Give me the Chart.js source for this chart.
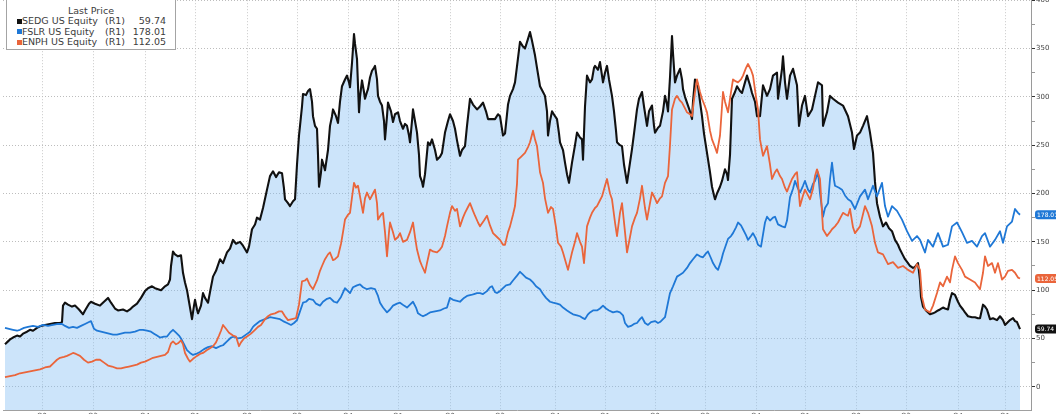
<!DOCTYPE html>
<html>
<head>
<meta charset="utf-8">
<script src="https://cdn.jsdelivr.net/npm/chart.js@4.4.1/dist/chart.umd.min.js"></script>
<style>
  html, body { margin: 0; padding: 0; background: #fff; overflow: hidden; width: 1056px; height: 414px; }
  #wrap { position: absolute; left: 0; top: -5px; width: 1056px; height: 429px; }
  #legend { position: absolute; left: 6px; top: -1px; width: 170px; height: 51px; box-sizing: border-box; background: #fff;
            border: 1px solid #a4a4a4; font-family: "DejaVu Sans", sans-serif; font-size: 9.5px; color: #3c3c3c; }
  #legend .title { position: absolute; left: 0; right: 0; top: 6px; height: 10px; line-height: 10px; text-align: center; }
  #legend .row { position: absolute; left: 0; width: 168px; height: 10px; line-height: 10px; white-space: nowrap; }
  #legend .sw { position: absolute; left: 10px; top: 2.5px; width: 5px; height: 5px; }
  #legend .nm { position: absolute; left: 15px; }
  #legend .r1 { position: absolute; left: 98px; }
  #legend .val { position: absolute; right: 9px; }
</style>
</head>
<body>
<div id="wrap"><canvas id="priceChart"></canvas></div>
<div id="legend"><div class="title">Last Price</div></div>
<script>
// session index (x) and last price
const sedg = [[0,44],[3,47],[5,49],[8,51],[12,53],[15,52],[18,55],[22,57],[25,59],[28,58],[32,61],[36,63],[40,64],[45,65],[50,66],[55,66],[57,67],[58,84],[60,87],[63,85],[67,83],[70,84],[74,80],[78,75],[80,79],[84,86],[86,88],[90,86],[95,84],[99,88],[103,92],[106,87],[110,81],[113,79],[118,80],[122,78],[125,80],[128,83],[132,86],[136,92],[140,99],[143,102],[147,104],[150,102],[153,101],[156,100],[160,104],[163,106],[165,111],[166,125],[168,140],[170,137],[173,135],[176,136],[178,118],[180,108],[182,100],[184,88],[187,70],[189,84],[190,90],[192,80],[193,76],[196,84],[198,97],[200,92],[203,87],[205,98],[208,114],[211,120],[215,132],[218,128],[222,139],[225,143],[228,152],[231,148],[235,150],[238,146],[242,139],[244,145],[247,163],[250,168],[252,175],[255,173],[258,185],[262,204],[265,218],[268,223],[271,217],[274,222],[277,221],[279,205],[280,194],[283,190],[285,187],[288,192],[290,194],[292,230],[294,260],[295,270],[297,290],[298,303],[301,302],[303,306],[305,308],[307,295],[308,280],[310,270],[312,267],[313,240],[314,207],[316,222],[317,235],[319,228],[320,224],[323,245],[325,270],[327,280],[328,287],[331,280],[333,273],[335,295],[337,311],[340,318],[342,322],[344,315],[345,310],[347,335],[349,365],[350,355],[352,339],[354,284],[355,300],[357,317],[359,305],[360,298],[362,305],[363,308],[365,320],[367,327],[369,330],[370,332],[372,318],[373,301],[375,295],[377,291],[379,275],[380,256],[382,280],[383,294],[386,285],[388,274],[390,282],[393,284],[395,275],[398,267],[400,272],[402,270],[404,260],[405,253],[407,275],[408,287],[410,275],[412,263],[414,240],[415,218],[417,212],[418,207],[420,220],[423,253],[425,250],[427,256],[430,245],[432,235],[435,238],[437,242],[440,263],[443,275],[445,282],[448,275],[450,267],[452,255],[455,239],[457,245],[460,249],[462,270],[465,298],[468,292],[472,287],[475,290],[478,294],[481,285],[483,277],[487,277],[490,277],[493,282],[495,280],[498,260],[500,262],[503,292],[505,301],[508,308],[510,315],[513,340],[515,357],[518,352],[520,350],[523,360],[525,367],[527,358],[530,343],[532,330],[535,311],[538,305],[540,301],[542,285],[543,260],[545,275],[547,285],[550,280],[552,277],[554,262],[555,253],[558,245],[560,232],[562,220],[564,211],[566,225],[567,232],[570,250],[572,263],[575,258],[577,256],[578,235],[580,290],[582,322],[585,315],[587,318],[589,330],[590,332],[593,328],[595,336],[597,322],[598,315],[600,325],[602,332],[604,318],[607,301],[609,285],[611,265],[612,253],[615,250],[617,249],[619,230],[622,211],[624,225],[627,246],[629,262],[632,287],[634,298],[637,305],[639,290],[642,270],[644,285],[647,291],[649,270],[650,263],[653,268],[655,270],[658,285],[660,301],[662,292],[663,285],[665,320],[667,363],[668,345],[670,315],[672,322],[675,329],[677,318],[678,308],[680,300],[683,291],[685,285],[687,277],[688,295],[690,318],[692,315],[693,311],[695,295],[697,280],[699,262],[702,242],[705,222],[707,207],[709,198],[710,194],[712,200],[715,207],[717,213],[720,225],[722,220],[723,214],[725,240],[727,298],[730,305],[732,311],[735,306],[737,304],[740,315],[742,322],[745,312],[747,304],[750,295],[752,280],[755,280],[758,312],[762,301],[765,308],[768,322],[772,325],[773,298],[777,329],[778,342],[780,315],[782,298],[785,322],[788,329],[792,312],[794,270],[797,291],[800,301],[803,280],[807,287],[810,301],[813,315],[817,312],[818,270],[822,284],[825,301],[828,298],[833,294],[838,291],[843,280],[847,263],[849,246],[852,260],[855,263],[858,270],[862,280],[865,263],[868,242],[870,212],[872,190],[875,176],[878,166],[881,170],[884,164],[887,161],[890,152],[893,147],[895,142],[898,136],[900,132],[903,128],[905,125],[908,123],[910,124],[913,128],[915,110],[916,93],[918,83],[921,79],[925,75],[928,76],[930,77],[933,79],[935,80],[938,82],[940,81],[943,80],[945,90],[947,97],[950,95],[953,88],[955,84],[958,80],[960,77],[963,73],[967,72],[970,72],[973,71],[975,71],[978,85],[980,83],[982,80],[985,70],[988,71],[992,69],[995,73],[998,69],[1000,64],[1003,67],[1005,69],[1008,71],[1010,68],[1012,67],[1015,59.74]];

const fslr = [[0,61],[4,60],[8,59],[12,58],[15,59],[19,61],[23,62],[28,63],[33,62],[38,64],[43,63],[48,64],[53,65],[57,65],[60,63],[64,61],[68,62],[72,61],[76,63],[80,65],[84,67],[86,68],[89,60],[92,58],[96,57],[100,56],[104,55],[108,54],[112,54],[116,55],[120,56],[125,56],[130,57],[135,59],[138,59],[142,58],[146,57],[149,55],[152,53],[155,51],[159,52],[162,52],[165,56],[168,59],[171,56],[174,53],[176,50],[179,44],[182,38],[185,35],[188,33],[191,34],[195,36],[199,39],[203,41],[207,42],[211,40],[215,42],[218,43],[222,47],[226,51],[229,52],[233,50],[237,51],[241,54],[245,57],[248,62],[250,64],[255,68],[260,70],[265,72],[270,71],[275,70],[278,68],[282,66],[286,64],[289,66],[292,69],[295,78],[298,87],[301,88],[304,91],[308,90],[311,86],[315,84],[318,88],[322,91],[325,92],[329,88],[332,87],[336,93],[340,102],[343,99],[345,97],[348,103],[352,105],[355,106],[358,103],[362,101],[366,102],[370,101],[373,94],[375,87],[378,82],[382,77],[385,80],[388,84],[392,86],[395,87],[399,84],[402,82],[405,85],[408,88],[411,82],[413,76],[416,74],[418,73],[422,75],[425,77],[430,78],[435,79],[439,81],[442,82],[445,92],[448,90],[452,89],[455,88],[459,92],[462,94],[466,95],[469,96],[472,97],[475,97],[478,96],[482,99],[485,103],[487,104],[490,98],[492,97],[495,99],[498,102],[501,105],[505,106],[508,110],[512,115],[515,119],[518,116],[521,113],[525,111],[528,108],[531,104],[535,101],[538,96],[541,92],[545,88],[548,87],[552,86],[555,85],[558,82],[562,79],[565,77],[568,75],[572,74],[575,73],[578,71],[580,70],[583,75],[585,77],[588,79],[592,79],[595,81],[598,84],[601,81],[604,79],[608,77],[612,78],[615,77],[618,74],[620,66],[623,62],[626,63],[629,65],[632,66],[635,70],[637,72],[640,66],[643,64],[646,67],[650,68],[653,66],[655,67],[658,70],[660,72],[662,82],[665,97],[668,104],[672,114],[675,116],[678,118],[682,123],[685,128],[688,132],[692,137],[695,135],[698,134],[701,138],[703,140],[706,133],[708,128],[711,123],[713,121],[716,130],[718,138],[721,147],[723,153],[726,156],[728,159],[731,165],[733,170],[736,167],[738,163],[741,157],[743,152],[746,156],[748,159],[751,153],[753,147],[756,145],[760,170],[762,176],[765,172],[768,175],[770,176],[773,168],[777,166],[780,165],[782,172],[785,196],[788,205],[790,213],[793,205],[795,201],[798,208],[800,213],[803,204],[805,201],[808,210],[810,213],[813,222],[815,200],[818,176],[820,185],[823,190],[825,215],[827,232],[829,214],[830,208],[834,206],[837,204],[840,198],[843,194],[846,192],[850,184],[855,197],[860,204],[863,194],[868,208],[872,197],[877,211],[880,187],[883,176],[887,187],[892,182],[897,173],[902,161],[907,151],[912,156],[915,152],[920,139],[923,152],[928,145],[933,159],[938,145],[943,147],[947,166],[952,170],[957,160],[962,149],[967,151],[972,145],[977,156],[980,159],[985,145],[990,152],[995,161],[998,149],[1002,166],[1007,171],[1010,184],[1013,180],[1015,178.01]];

const enph = [[0,10],[5,11],[10,12],[15,14],[20,15],[25,16],[30,17],[35,18],[40,20],[45,21],[48,24],[52,28],[55,30],[59,31],[62,32],[66,34],[68,35],[71,34],[75,32],[79,28],[83,25],[87,26],[91,28],[95,28],[99,25],[103,22],[107,21],[112,19],[116,19],[120,20],[124,21],[128,22],[132,23],[136,25],[140,26],[144,28],[148,30],[152,31],[156,32],[160,33],[163,36],[166,45],[168,47],[171,44],[173,45],[176,48],[178,44],[180,35],[183,29],[185,26],[188,29],[192,32],[195,34],[198,35],[202,38],[205,40],[208,42],[211,46],[214,53],[216,58],[218,64],[221,60],[224,56],[228,53],[231,52],[234,42],[236,46],[239,50],[242,52],[246,55],[250,59],[253,62],[256,64],[260,70],[263,73],[266,75],[270,76],[274,78],[277,78],[280,73],[283,69],[287,70],[291,71],[294,85],[297,109],[300,110],[302,112],[305,105],[308,101],[312,110],[315,120],[317,125],[320,132],[323,137],[325,139],[328,131],[330,132],[333,135],[336,148],[338,160],[340,173],[343,178],[345,180],[347,196],[349,211],[351,206],[353,208],[355,197],[358,180],[360,195],[362,201],[365,194],[368,200],[370,204],[372,190],[373,173],[376,178],[378,180],[380,160],[382,135],[384,160],[385,170],[388,160],[390,152],[393,155],[395,159],[398,150],[402,152],[405,160],[408,170],[410,155],[412,142],[415,130],[417,125],[420,118],[422,128],[425,142],[428,140],[432,139],[435,142],[437,145],[440,156],[442,166],[445,180],[447,187],[450,182],[452,184],[455,166],[458,175],[460,180],[463,186],[465,190],[468,182],[470,177],[473,170],[475,166],[479,172],[482,177],[485,167],[488,159],[492,155],[495,152],[498,147],[500,147],[503,160],[505,166],[508,178],[510,187],[512,210],[513,235],[516,238],[520,242],[523,248],[525,253],[528,265],[530,256],[532,249],[535,222],[538,211],[540,195],[543,180],[546,186],[548,184],[551,165],[553,149],[556,145],[558,139],[561,128],[563,121],[565,130],[567,139],[570,150],[572,159],[575,150],[577,145],[579,128],[582,166],[585,175],[587,180],[590,185],[592,187],[595,193],[597,197],[600,208],[602,215],[605,200],[607,194],[610,170],[612,156],[615,180],[617,190],[620,160],[622,139],[625,155],[627,166],[630,175],[632,180],[635,195],[637,208],[640,185],[642,173],[645,190],[647,201],[650,195],[652,190],[655,195],[657,197],[660,211],[663,218],[665,250],[667,287],[670,298],[672,301],[675,296],[677,294],[680,288],[682,284],[685,282],[687,280],[690,305],[692,318],[695,305],[697,298],[700,290],[702,284],[705,265],[707,256],[710,248],[712,242],[715,260],[718,305],[720,295],[723,284],[726,305],[728,318],[731,316],[733,315],[736,318],[738,322],[741,330],[743,334],[746,328],[748,322],[751,300],[753,287],[755,256],[758,239],[762,249],[765,230],[767,215],[770,222],[772,225],[775,218],[777,215],[780,206],[782,202],[785,210],[787,215],[790,220],[792,222],[795,187],[798,198],[800,204],[803,198],[805,194],[808,205],[810,218],[812,225],[815,215],[818,163],[822,156],[825,160],[827,163],[830,166],[833,170],[836,176],[838,180],[841,178],[843,177],[845,184],[848,165],[850,159],[855,166],[860,187],[863,180],[867,166],[870,149],[873,139],[878,137],[883,127],[888,129],[893,123],[898,125],[903,121],[908,118],[912,127],[915,121],[917,93],[920,80],[925,77],[928,84],[932,97],[935,108],[938,104],[942,114],[945,108],[947,121],[950,135],[953,128],[957,121],[960,114],[965,111],[970,108],[975,101],[978,118],[980,135],[983,125],[987,128],[990,118],[993,128],[997,111],[1000,114],[1003,120],[1007,121],[1010,118],[1013,113],[1015,112.05]];

const tickers = ["SEDG US Equity", "FSLR US Equity", "ENPH US Equity"];
const axisTag = "(R1)";
const colors = ["#111111", "#1f78d6", "#ea653b"];

const quarterDays = [37, 88, 140, 190, 242, 292, 343, 393, 445, 495, 550, 600, 650, 700, 751, 800, 851, 901, 953, 1000];
const quarterLabels = ["Q2", "Q3", "Q4", "Q1", "Q2", "Q3", "Q4", "Q1", "Q2", "Q3", "Q4", "Q1", "Q2", "Q3", "Q4", "Q1", "Q2", "Q3", "Q4", "Q1"];
const priceTicks = [0, 25, 50, 75, 100, 125, 150, 175, 200, 225, 250, 275, 300, 325, 350, 375, 400];

const series = [sedg, fslr, enph];

// legend box (HTML, on top of the canvas)
const legendBox = document.getElementById("legend");
series.forEach((s, i) => {
  const row = document.createElement("div");
  row.className = "row";
  row.style.top = (16 + i * 10.5) + "px";
  row.innerHTML = '<span class="sw" style="background:' + colors[i] + '"></span>' +
    '<span class="nm">' + tickers[i] + '</span><span class="r1">' + axisTag + '</span>' +
    '<span class="val">' + s[s.length - 1][1].toFixed(2) + '</span>';
  legendBox.appendChild(row);
});

// coloured last-value tags on the right axis
const lastValueTags = {
  id: "lastValueTags",
  afterDraw(chart) {
    const ctx = chart.ctx;
    const yScale = chart.scales.y;
    const left = yScale.left + 4;
    ctx.save();
    ctx.font = '6px "DejaVu Sans"';
    ctx.textBaseline = "middle";
    chart.data.datasets.forEach(ds => {
      const last = ds.data[ds.data.length - 1].y;
      const py = yScale.getPixelForValue(last);
      ctx.fillStyle = ds.borderColor;
      ctx.beginPath();
      ctx.roundRect(left, py - 4.5, 30, 9, 3);
      ctx.fill();
      ctx.fillStyle = "#fff";
      ctx.fillText(last.toFixed(2), left + 2, py + 0.5);
    });
    ctx.restore();
  }
};

new Chart(document.getElementById("priceChart"), {
  type: "line",
  data: {
    datasets: series.map((s, i) => ({
      label: tickers[i],
      data: s.map(p => ({ x: p[0], y: p[1] })),
      borderColor: colors[i],
      borderWidth: i === 0 ? 2.1 : 1.8,
      fill: i === 0 ? "start" : false,
      backgroundColor: i === 0 ? "rgba(127,187,242,0.4)" : "transparent",
      order: 3 - i
    }))
  },
  options: {
    responsive: true,
    maintainAspectRatio: false,
    animation: false,
    elements: { point: { radius: 0 }, line: { tension: 0, borderJoinStyle: "round" } },
    layout: { padding: { left: 3, top: 0, right: 0, bottom: 0 } },
    plugins: { legend: { display: false }, tooltip: { enabled: false } },
    scales: {
      x: {
        type: "linear",
        min: -2,
        max: 1026,
        afterBuildTicks: scale => { scale.ticks = quarterDays.map(v => ({ value: v })); },
        afterFit: scale => { scale.height = 14; },
        grid: { color: "#c9c9c9", lineWidth: 1, drawTicks: false },
        border: { color: "#a0a0a0", dash: [1, 2] },
        ticks: {
          autoSkip: false, maxRotation: 0, padding: 2,
          color: "#555", font: { family: "DejaVu Sans", size: 7 },
          callback: (v, i) => quarterLabels[i]
        }
      },
      y: {
        position: "right",
        min: -24,
        max: 400,
        afterBuildTicks: scale => { scale.ticks = priceTicks.map(v => ({ value: v })); },
        afterFit: scale => { scale.width = 25; },
        grid: {
          color: c => (c.tick && c.tick.value % 50 === 0) ? "#bdbdbd" : "transparent",
          tickColor: c => (c.tick && c.tick.value % 50 === 0) ? "#333" : "#999",
          tickLength: 4,
          lineWidth: 1
        },
        border: { color: "#9a9a9a", dash: [1, 2] },
        ticks: {
          padding: 1,
          color: "#444",
          font: { family: "DejaVu Sans", size: 7 },
          callback: v => (v % 50 === 0 ? String(v) : "")
        }
      }
    }
  },
  plugins: [lastValueTags]
});
</script>
</body>
</html>
